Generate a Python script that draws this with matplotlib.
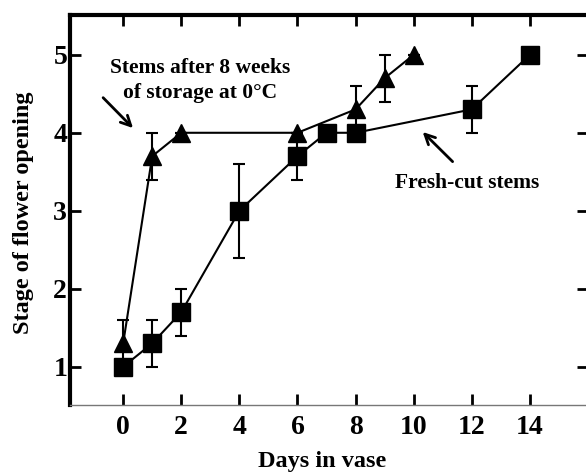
import matplotlib
matplotlib.use("Agg")
import matplotlib.pyplot as plt

# Data
stored_days = [0, 1, 2, 6, 8, 9, 10]
stored_stage = [1.3, 3.7, 4.0, 4.0, 4.3, 4.7, 5.0]
stored_err = [0.3, 0.3, 0.0, 0.0, 0.3, 0.3, 0.0]

fresh_days = [0, 1, 2, 4, 6, 7, 8, 12, 14]
fresh_stage = [1.0, 1.3, 1.7, 3.0, 3.7, 4.0, 4.0, 4.3, 5.0]
fresh_err = [0.0, 0.3, 0.3, 0.6, 0.3, 0.0, 0.0, 0.3, 0.0]

xticks = [0, 2, 4, 6, 8, 10, 12, 14]
yticks = [1, 2, 3, 4, 5]

plt.rcParams['font.family'] = ['Liberation Serif', 'DejaVu Serif']
plt.rcParams['font.weight'] = 'bold'

fig = plt.figure(figsize=(5.86, 4.73), dpi=100)
ax = fig.add_axes([70/586, 1-405/473, (588-70)/586, (405-15)/473])

ax.errorbar(fresh_days, fresh_stage, yerr=fresh_err, fmt='-s', color='black',
            markersize=12.5, linewidth=1.5, elinewidth=1.5, capsize=4.5, capthick=1.5)
ax.errorbar(stored_days, stored_stage, yerr=stored_err, fmt='-^', color='black',
            markersize=13.5, linewidth=1.5, elinewidth=1.5, capsize=4.5, capthick=1.5)

ax.set_xlim(-1.83, 16.0)
ax.set_ylim(0.51, 5.51)
ax.set_xticks(xticks)
ax.set_yticks(yticks)
ax.tick_params(axis='both', direction='in', length=8, width=2, labelsize=20,
               top=True, right=True)
ax.tick_params(axis='x', pad=7)
ax.tick_params(axis='y', pad=2)
for lab in ax.get_xticklabels() + ax.get_yticklabels():
    lab.set_fontweight('bold')

ax.spines['left'].set_linewidth(3)
ax.spines['top'].set_linewidth(3)
ax.spines['bottom'].set_linewidth(1)
ax.spines['bottom'].set_color('#777777')
ax.spines['right'].set_visible(False)

fig.text(322/586, 1-461/473, 'Days in vase', ha='center', va='center',
         fontsize=17.5, fontweight='bold')
fig.text(24/586, 1-213/473, 'Stage of flower opening', ha='center', va='center',
         rotation=90, fontsize=17.5, fontweight='bold')

ax.text(2.66, 4.67, 'Stems after 8 weeks\nof storage at 0°C', ha='center', va='center',
        fontsize=15.5, fontweight='bold', linespacing=1.3)
ax.annotate('', xy=(0.34, 4.06), xytext=(-0.69, 4.45),
            arrowprops=dict(arrowstyle='->', color='black', lw=2, shrinkA=0, shrinkB=0,
                            mutation_scale=18))
ax.annotate('', xy=(10.31, 4.01), xytext=(11.34, 3.63),
            arrowprops=dict(arrowstyle='->', color='black', lw=2, shrinkA=0, shrinkB=0,
                            mutation_scale=18))
ax.text(11.83, 3.36, 'Fresh-cut stems', ha='center', va='center', fontsize=15.5,
        fontweight='bold')

fig.savefig('out.png', dpi=100)
